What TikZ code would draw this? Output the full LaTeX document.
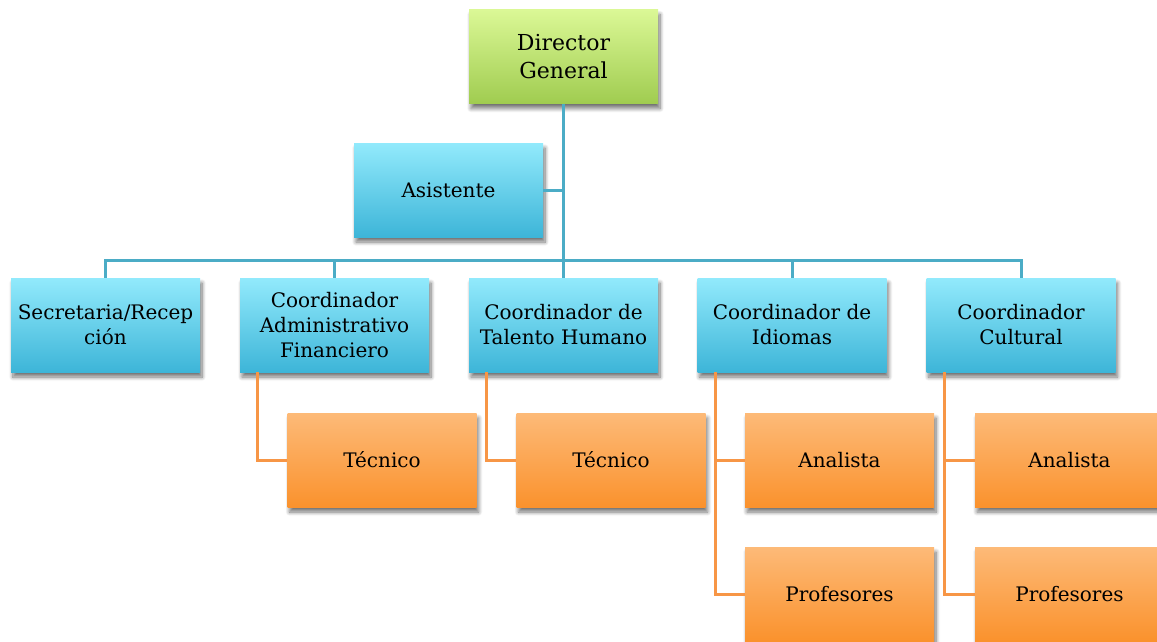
\documentclass[tikz,border=0pt]{standalone}
\usepackage{fontspec}
\setmainfont{DejaVu Serif}
\usetikzlibrary{shadows.blur}
\definecolor{azulTop}{RGB}{146,234,252}
\definecolor{azulBot}{RGB}{61,181,216}
\definecolor{verdeTop}{RGB}{219,248,150}
\definecolor{verdeBot}{RGB}{160,204,80}
\definecolor{naranjaTop}{RGB}{253,186,120}
\definecolor{naranjaBot}{RGB}{250,146,45}
\definecolor{lineaAzul}{RGB}{75,172,198}
\definecolor{lineaNaranja}{RGB}{247,150,70}
\begin{document}
\begin{tikzpicture}[x=1pt, y=-1pt, linea/.style={line width=3pt, draw=lineaAzul}, lineaN/.style={line width=3pt, draw=lineaNaranja}]
        \tikzset{cargo/.style={rectangle, minimum height=94pt, minimum width=189pt, inner sep=2pt, align=center,
            font=\fontsize{20}{25}\selectfont, blur shadow={shadow xshift=2pt, shadow yshift=-5pt, shadow blur steps=8, shadow blur radius=4pt, shadow opacity=55}},
            jefe/.style={cargo, top color=verdeTop, bottom color=verdeBot, font=\fontsize{22}{28}\selectfont},
            coord/.style={cargo, top color=azulTop, bottom color=azulBot},
            apoyo/.style={cargo, top color=naranjaTop, bottom color=naranjaBot}};
        \useasboundingbox (0, 0) rectangle (1157, 641);
        \node[jefe] (dg) at (563.5, 56.5) {Director\\General};
        \node[coord] (as) at (448.5, 190) {Asistente};

        \node[coord] (sr) at (105.5, 325) {Secretaria/Recep\\ción};
        \node[coord] (ca) at (334.5, 325) {Coordinador\\Administrativo\\Financiero};
        \node[coord] (th) at (563.5, 325) {Coordinador de\\Talento Humano};
        \node[coord] (ci) at (792, 325) {Coordinador de\\Idiomas};
        \node[coord] (cc) at (1021, 325) {Coordinador\\Cultural};

        \node[apoyo] (t1) at (382, 460) {Técnico};
        \node[apoyo] (t2) at (611, 460) {Técnico};
        \node[apoyo] (a1) at (839.5, 460) {Analista};
        \node[apoyo] (p1) at (839.5, 594) {Profesores};
        \node[apoyo] (a2) at (1069.5, 460) {Analista};
        \node[apoyo] (p2) at (1069.5, 594) {Profesores};

        % lineas azules
        \coordinate (bus) at (563.5, 260);
        \draw[linea] (dg.south) -- (th.north);
        \draw[linea] (as.east) -- (as.east -| dg.south);
        \draw[linea] (sr.north) |- (bus) -| (cc.north);
        \draw[linea] (ca.north) -- (ca.north |- bus);
        \draw[linea] (ci.north) -- (ci.north |- bus);

        % lineas naranjas
        \draw[lineaN] ([xshift=18pt]ca.south west) |- (t1.west);
        \draw[lineaN] ([xshift=18pt]th.south west) |- (t2.west);
        \draw[lineaN] ([xshift=18pt]ci.south west) |- (p1.west);
        \draw[lineaN] (a1.west) -- ++(-29, 0);
        \draw[lineaN] ([xshift=18pt]cc.south west) |- (p2.west);
        \draw[lineaN] (a2.west) -- ++(-29, 0);
    \end{tikzpicture}
\end{document}
